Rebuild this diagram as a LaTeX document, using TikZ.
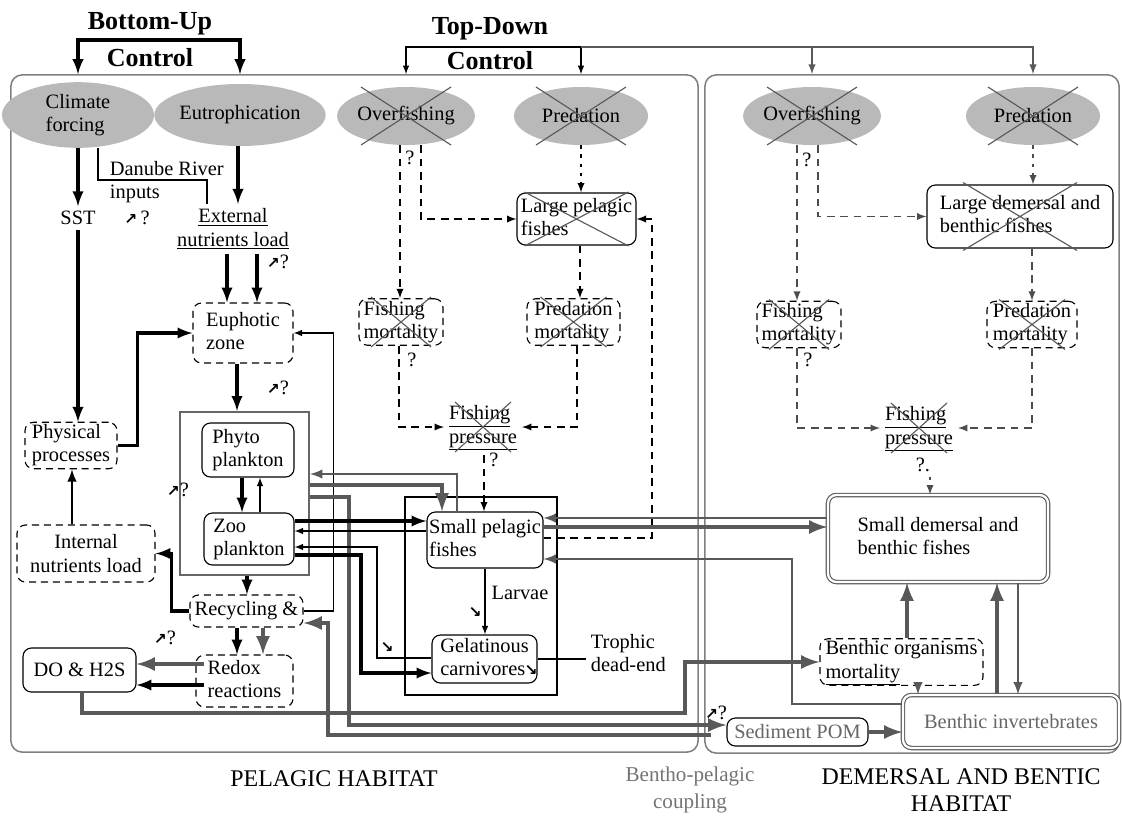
\documentclass[tikz,border=0pt]{standalone}
\usepackage{fontspec}
\setmainfont{Liberation Serif}
\newfontfamily\symfont{DejaVu Sans}
\usepackage{tikz}
\usetikzlibrary{arrows}
\usetikzlibrary{calc}
\usetikzlibrary{shapes.geometric}

\newcommand{\incr}{{\symfont\bfseries\fontsize{11}{11}\selectfont ↗}}
\newcommand{\decr}{{\symfont\bfseries\fontsize{11}{11}\selectfont ↘}}
\newcommand{\leftlines}[1]{\begin{tabular}{@{}l@{}}#1\end{tabular}}
\newcommand{\crossout}[3]{%
  \draw[xline] ($(#1)+(-#2,-#3)$) -- ($(#1)+(#2,#3)$)
               ($(#1)+(-#2,#3)$) -- ($(#1)+(#2,-#3)$);}

\begin{document}
\begin{tikzpicture}[
  x=0.025cm, y=-0.025cm,
  > = latex,
  every node/.style = {font=\fontsize{14.5}{16.5}\selectfont},
  ctrltitle/.style = {font=\fontsize{18.5}{20}\selectfont\bfseries},
  habitat/.style = {font=\fontsize{17}{19}\selectfont},
  driver/.style = {ellipse, fill=gray!55, inner sep=0pt,
    minimum width=3.35cm, minimum height=1.45cm},
  solidbox/.style = {draw, line width=0.8pt, rounded corners=6pt, inner sep=0pt},
  dashbox/.style = {solidbox, dash pattern=on 5pt off 3.5pt},
  dblbox/.style = {draw=black!65, line width=0.8pt, double=white, double distance=1.6pt,
    rounded corners=6pt, inner sep=0pt},
  habframe/.style = {draw=black!50, line width=1.1pt, rounded corners=8pt, inner sep=0pt},
  plkframe/.style = {draw=black!60, line width=1.5pt, inner sep=0pt},
  thickline/.style = {line width=2.6pt},
  medline/.style = {line width=2pt},
  thinline/.style = {line width=1.1pt},
  gthick/.style = {black!65, line width=3.4pt},
  gmed/.style = {black!65, line width=2pt},
  gthin/.style = {black!65, line width=1.4pt},
  dashline/.style = {line width=1.3pt, dash pattern=on 5.5pt off 4pt},
  dotline/.style = {line width=1.3pt, dash pattern=on 2.5pt off 4pt},
  gdashline/.style = {dashline, black!70},
  gdotline/.style = {dotline, black!70},
  xline/.style = {black!65, line width=0.8pt}
  ]
	\useasboundingbox (0,0) rectangle (1122,818);

	% habitat frames
	\node[habframe, minimum width=17.175cm, minimum height=16.925cm] (pel) at (354.5,413.5) {};
	\node[habframe, minimum width=10.35cm, minimum height=16.95cm] (dem) at (912,414) {};

	\node[ctrltitle] (bu) at (150,24) {Bottom-Up};
	\node[ctrltitle] (buc) at (150,58) {Control};
	\node[ctrltitle] (td) at (490,29) {Top-Down};
	\node[ctrltitle] (tdc) at (490,61) {Control};
	\coordinate (bubar) at (150,40);
	\coordinate (tdbar) at (490,47);

	% drivers
	\node[driver, minimum width=3.8cm, minimum height=1.6cm] (clim) at (78,115) {\leftlines{Climate\\forcing}};
	\node[driver, minimum width=3.6cm, minimum height=1.55cm] (eutr) at (240,115) {Eutrophication};
	\node[driver] (ofp) at (406,116) {Overfishing};
	\node[driver] (prp) at (581,116) {Predation};
	\node[driver] (ofd) at (812,116) {Overfishing};
	\node[driver] (prd) at (1033,116) {Predation};

	% pelagic habitat
	\node (sst) at (78,218) {SST};
	\node[anchor=west] (danube) at (105,182) {\leftlines{Danube River\\inputs}};
	\node[align=center] (ext) at (233,229) {\underline{External}\\\underline{nutrients load}};
	\node[dashbox, minimum width=2.5cm, minimum height=1.5cm] (eup) at (243,333) {\leftlines{Euphotic\\zone}};
	\node[dashbox, minimum width=2.3cm, minimum height=1.125cm] (phys) at (71,445.5) {\leftlines{Physical\\processes}};
	\node[dashbox, minimum width=3.45cm, minimum height=1.425cm, align=center] (intl) at (86,553.5) {Internal\\nutrients load};
	\node[plkframe, minimum width=3.225cm, minimum height=4.075cm] (plk) at (244.5,493.5) {};
	\node[solidbox, minimum width=2.3cm, minimum height=1.35cm] (phyto) at (248,450) {\leftlines{Phyto\\plankton}};
	\node[solidbox, minimum width=2.25cm, minimum height=1.3cm] (zoo) at (249,539) {\leftlines{Zoo\\plankton}};
	\node[dashbox, minimum width=2.825cm, minimum height=0.8cm] (recyc) at (246.5,611) {Recycling \&};
	\node[dashbox, minimum width=2.425cm, minimum height=1.3cm] (redox) at (244.5,681) {\leftlines{Redox\\reactions}};
	\node[solidbox, minimum width=2.825cm, minimum height=1.1cm] (doh) at (79.5,670) {DO \& H2S};

	\node[draw, thinline, inner sep=0pt, minimum width=3.8cm, minimum height=4.95cm] (spfbox) at (481,596) {};
	\node[solidbox, minimum width=2.9cm, minimum height=1.4cm] (spf) at (485,540) {\leftlines{Small pelagic\\fishes}};
	\node[solidbox, minimum width=2.625cm, minimum height=1.2cm] (gel) at (484.5,659) {\leftlines{Gelatinous\\carnivores}};
	\node[anchor=west] (tde) at (586,655) {\leftlines{Trophic\\dead-end}};
	\node (larv) at (520,593) {Larvae};

	\node[solidbox, minimum width=2.975cm, minimum height=1.3cm] (lpf) at (576.5,219) {\leftlines{Large pelagic\\fishes}};
	\node[dashbox, minimum width=2.1cm, minimum height=1.15cm] (fmp) at (401,322) {\leftlines{Fishing\\mortality}};
	\node[dashbox, minimum width=2.325cm, minimum height=1.15cm] (pmp) at (573.5,322) {\leftlines{Predation\\mortality}};
	\node (fpp) at (483,427) {\leftlines{\underline{Fishing}\\\underline{pressure}}};

	% demersal habitat
	\node[solidbox, minimum width=4.65cm, minimum height=1.575cm] (ldf) at (1020,216.5) {\leftlines{Large demersal and\\benthic fishes}};
	\node[dashbox, minimum width=2.1cm, minimum height=1.125cm] (fmd) at (799,324.5) {\leftlines{Fishing\\mortality}};
	\node[dashbox, minimum width=2.25cm, minimum height=1.125cm] (pmd) at (1032,324.5) {\leftlines{Predation\\mortality}};
	\node (fpd) at (919,428) {\leftlines{\underline{Fishing}\\\underline{pressure}}};
	\node[dblbox, minimum width=5.5cm, minimum height=2.175cm] (sdf) at (938,538.5) {\leftlines{Small demersal and\\benthic fishes}};
	\node[dashbox, minimum width=4.075cm, minimum height=1.1cm] (bom) at (901.5,662) {\leftlines{Benthic organisms\\\underline{mortality}}};
	\node[dblbox, minimum width=5.4cm, minimum height=1.325cm, text=black!60] (binv) at (1011,721.5) {Benthic invertebrates};
	\node[solidbox, minimum width=3.525cm, minimum height=0.7cm, text=black!60] (spom) at (797.5,732) {Sediment POM};

	\node[habitat] (pelh) at (334,779) {PELAGIC HABITAT};
	\node[align=center, text=black!55, font=\fontsize{15}{19}\selectfont] (bpc) at (690,790) {Bentho-pelagic\\coupling};
	\node[habitat, align=center] (demh) at (961,790) {DEMERSAL AND BENTIC\\HABITAT};

	% trends and question marks
	\node (q1) at (137,218) {\incr\,?};
	\node (q2) at (278,262) {\incr?};
	\node (q3) at (278,388) {\incr?};
	\node (q4) at (178,490) {\incr?};
	\node (q5) at (165,638) {\incr?};
	\node (q6) at (410,158) {?};
	\node (q7) at (412,360) {?};
	\node (q8) at (494,460) {?};
	\node (q9) at (807,160) {?};
	\node (q10) at (808,360) {?};
	\node (q11) at (923,465) {?.};
	\node (q12) at (716,713) {\incr?};
	\node (d1) at (475,612) {\decr};
	\node (d2) at (387,647) {\decr};
	\node (d3) at (531,670) {\decr};

	% controls
	\draw[thickline,<->] (clim |- pel.north) |- (bubar) -| (eutr |- pel.north);
	\draw[thinline,<->] (ofp |- pel.north) |- (tdbar) -| (prp |- pel.north);
	\draw[gthin,->] (prp |- tdbar) -| (ofd |- dem.north);
	\draw[gthin,->] (ofd |- tdbar) -| (prd |- dem.north);

	% bottom-up chain
	\draw[thickline,->] (clim) -- (sst);
	\draw[thinline] ([xshift=0.5cm]clim.south) |- (207,180) -- (207,0 |- ext.north);
	\draw[thickline,->] (238,0 |- eutr.south) -- (238,0 |- ext.north);
	\draw[thickline,->] (227,0 |- ext.south) -- (227,0 |- eup.north);
	\draw[thickline,->] (257,0 |- ext.south) -- (257,0 |- eup.north);
	\draw[thickline,->] (sst) -- (sst |- phys.north);
	\draw[thickline,->] (phys.east) -- ++(20,0) |- (eup.west);
	\draw[medline,->] (72,0 |- intl.north) -- (72,0 |- phys.south);
	\draw[thickline,->] (237,0 |- eup.south) -- (237,0 |- plk.north);
	\draw[thickline,->] (242,0 |- phyto.south) -- (242,0 |- zoo.north);
	\draw[thinline,->] (260,0 |- zoo.north) -- (260,0 |- phyto.south);
	\draw[thickline,->] (247,0 |- plk.south) -- (247,0 |- recyc.north);
	\draw[thickline,->] (recyc.west) -- ++(-18,0) |- (intl.east);
	\draw[thinline,->] (recyc.east) -- ++(30,0) |- (eup.east);
	\draw[thickline,->] (237,0 |- recyc.south) -- (237,0 |- redox.north);
	\draw[gthick,->] (263,0 |- recyc.south) -- (263,0 |- redox.north);
	\draw[gthick,->,shorten <=-0.22cm] (redox.west |- 0,664) -- (doh.east |- 0,664);
	\draw[thickline,->,shorten <=-0.22cm] (redox.west |- 0,685) -- (doh.east |- 0,685);
	\draw[gthick,->] (82,0 |- doh.south) |- (685,713) |- (bom.west);

	% plankton and fishes
	\draw[gthick,->] (plk.east |- 0,485) -| (442,0 |- spf.north);
	\draw[gmed,->] (457,0 |- spf.north) |- (plk.east |- 0,474);
	\draw[gthick,->] (plk.east |- 0,497) -| (349,725) -- (spom.west |- 0,725);
	\draw[gthick,->,shorten <=0.38cm] (spom.west |- 0,735) -| (328,623) -- (recyc.east |- 0,623);
	\draw[thickline,->] (zoo.east |- 0,521) -- (spf.west |- 0,521);
	\draw[thinline,->] (spf.west |- 0,531) -- (zoo.east |- 0,531);
	\draw[thinline,->] (gel.west |- 0,658) -| (377,547) -- (zoo.east |- 0,547);
	\draw[thickline,->] (zoo.east |- 0,555) -| (361,673) -- (gel.west |- 0,673);
	\draw[thinline,->] (spf.south) -- (spf.south |- gel.north);
	\draw[thinline] (gel.east) -- (tde.west |- gel.east);

	% top-down, pelagic
	\draw[dashline,->] (400,0 |- ofp.south) -- (400,0 |- fmp.north);
	\draw[dashline,->] (421,0 |- ofp.south) |- (lpf.west);
	\draw[dotline,->] (581,0 |- prp.south) -- (581,0 |- lpf.north);
	\draw[dashline,->] (580,0 |- lpf.south) -- (580,0 |- pmp.north);
	\draw[dashline,->] (399,0 |- fmp.south) |- (fpp.west);
	\draw[dashline,->] (577,0 |- pmp.south) |- (fpp.east);
	\draw[dashline,->] (484,0 |- fpp.south) -- (484,0 |- spf.north);
	\draw[dashline,->] (spf.east |- 0,538) -- (652,538) |- (lpf.east);

	% top-down, demersal
	\draw[gdashline,->] (797,0 |- ofd.south) -- (797,0 |- fmd.north);
	\draw[gdashline,->] (818,0 |- ofd.south) |- (ldf.west);
	\draw[gdotline,->] (1033,0 |- prd.south) -- (1033,0 |- ldf.north);
	\draw[gdashline,->] (1032,0 |- ldf.south) -- (1032,0 |- pmd.north);
	\draw[gdashline,->] (797,0 |- fmd.south) |- (fpd.west);
	\draw[gdashline,->] (1032,0 |- pmd.south) |- (fpd.east);
	\draw[gdotline,->] (930,0 |- q11.south) -- (930,0 |- sdf.north);

	% bentho-pelagic coupling
	\draw[gmed,->] (sdf.west |- 0,518) -- (spf.east |- 0,518);
	\draw[gthick,->] (spf.east |- 0,527) -- (sdf.west |- 0,527);
	\draw[gmed,->] (binv.west |- 0,704) -| (792,559) -- (spf.east |- 0,559);
	\draw[gthick,->] (907,0 |- bom.north) -- (907,0 |- sdf.south);
	\draw[gmed,->] (918,0 |- bom.south) -- (918,0 |- binv.north);
	\draw[gthick,->] (997,0 |- binv.north) -- (997,0 |- sdf.south);
	\draw[gmed,->] (1018,0 |- sdf.south) -- (1018,0 |- binv.north);
	\draw[gthick,->] (spom.east) -- (binv.west |- spom.east);

	% crossed out
	\crossout{ofp}{45}{29}
	\crossout{prp}{45}{29}
	\crossout{ofd}{45}{29}
	\crossout{prd}{45}{29}
	\crossout{lpf}{52}{27}
	\crossout{ldf}{57}{34}
	\crossout{fmp}{30}{25}
	\crossout{pmp}{33}{25}
	\crossout{fmd}{30}{25}
	\crossout{pmd}{33}{25}
	\crossout{fpp}{28}{25}
	\crossout{fpd}{28}{25}

\end{tikzpicture}
\end{document}
